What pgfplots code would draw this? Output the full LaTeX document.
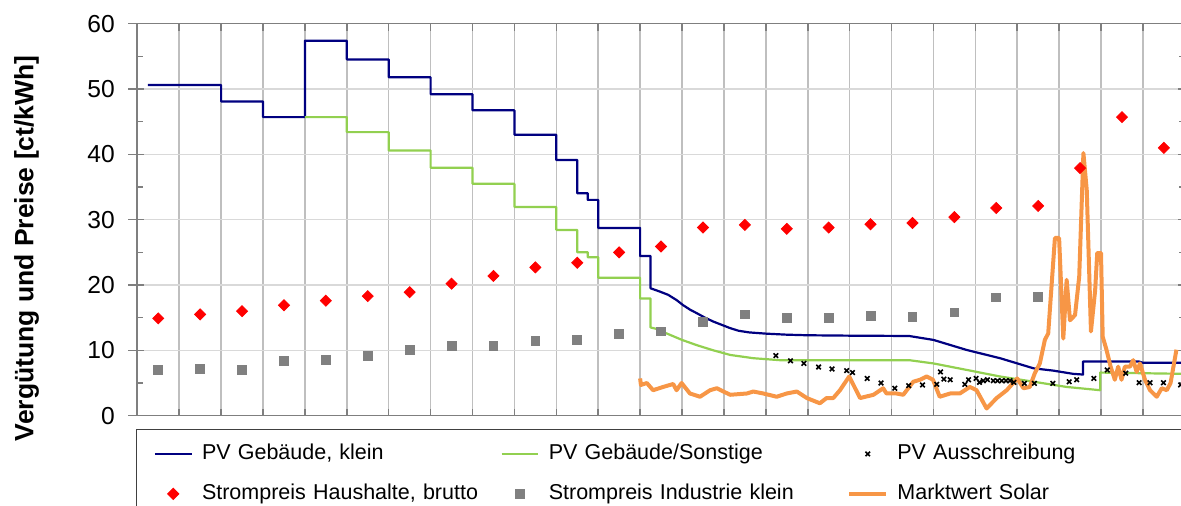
\documentclass[border=0pt]{standalone}
\usepackage{fontspec}
\setmainfont{Liberation Sans}
\usepackage{pgfplots}
\pgfplotsset{compat=1.18}
\definecolor{pvblue}{HTML}{000080}
\definecolor{pvgreen}{HTML}{92D050}
\definecolor{mwsolar}{HTML}{F79646}
\definecolor{indgray}{HTML}{808080}
\definecolor{gridx}{HTML}{BFBFBF}
\definecolor{gridy}{HTML}{D9D9D9}
\definecolor{axisgray}{HTML}{7F7F7F}
\begin{document}
\begin{tikzpicture}
\begin{axis}[
  scale only axis, width=523.75pt, height=196pt,
  xmin=2000, xmax=2025, ymin=0, ymax=60,
  xtick={2000,2001,...,2025}, xticklabels={},
  ytick={0,10,...,60},
  minor y tick num=1,
  extra y ticks={0,10,...,60}, extra y tick labels={},
  extra y tick style={grid=none, tick align=outside, major tick length=4.5pt},
  tick align=inside, major tick length=3.5pt, minor tick length=3pt,
  tick style={draw=axisgray, line width=0.8pt},
  grid=major,
  x grid style={draw=gridx, line width=0.8pt},
  y grid style={draw=gridy, line width=0.6pt},
  axis line style={draw=axisgray, line width=0.8pt},
  tick label style={font=\fontsize{12.3}{14}\selectfont},
  /pgf/number format/assume math mode=true,
  yticklabel style={xshift=-7.7pt},
  ylabel={Vergütung und Preise [ct/kWh]},
  every axis y label/.style={at={(axis description cs:-0.1058,0.427)}, anchor=center, rotate=90, font=\bfseries\fontsize{13.25}{15}\selectfont},
  legend columns=3,
  legend cell align=left,
  legend image code/.code={\draw[mark repeat=2,mark phase=2,#1] plot coordinates {(0pt,0pt)(9.175pt,0pt)(18.35pt,0pt)};},
  legend style={at={(axis description cs:0,0)}, anchor=north west, xshift=-0.65pt, yshift=-6.8pt,
    draw=black!75, line width=0.5pt, fill=white,
    font=\fontsize{10.75}{13}\selectfont,
    inner xsep=8.65pt, inner ysep=6.8pt, row sep=9.5pt,
    nodes={text width=145pt, align=left, inner xsep=0pt, inner ysep=0pt, text height=8pt, text depth=2.5pt},
    /tikz/every odd column/.append style={column sep=4.65pt},
    /tikz/every even column/.append style={column sep=4.3pt}},
]
% PV Gebaeude, klein
\addplot[pvblue, line width=1.1pt, line join=round] coordinates {
(2000.25,50.62) (2002,50.62) (2002,48.1) (2003,48.1) (2003,45.7) (2004,45.7)
(2004,57.4) (2005,57.4) (2005,54.53) (2006,54.53) (2006,51.8) (2007,51.8)
(2007,49.21) (2008,49.21) (2008,46.75) (2009,46.75) (2009,43.01) (2010,43.01)
(2010,39.14) (2010.5,39.14) (2010.5,34.05) (2010.75,34.05) (2010.75,33.03) (2011,33.03)
(2011,28.74) (2012,28.74) (2012,24.43) (2012.25,24.43) (2012.25,19.5)
(2012.47,19.0) (2012.67,18.5) (2012.87,17.7) (2013.03,16.9) (2013.2,16.2) (2013.35,15.7)
(2013.55,15.0) (2013.75,14.4) (2013.95,13.9) (2014.15,13.4) (2014.35,13.0) (2014.6,12.75)
(2015,12.56) (2015.5,12.4) (2016,12.31) (2017,12.25) (2018.42,12.2)
(2019.0,11.6) (2019.8,10.05) (2020.59,8.8) (2021.39,7.25) (2021.86,6.9) (2022.34,6.4)
(2022.57,6.3) (2022.57,8.3) (2023.9,8.3) (2024.0,8.1) (2025,8.1)
};
\addlegendentry{PV Gebäude, klein}
% PV Gebaeude/Sonstige
\addplot[pvgreen, line width=1.1pt, line join=round] coordinates {
(2004,45.7) (2005,45.7) (2005,43.4) (2006,43.4) (2006,40.6) (2007,40.6)
(2007,37.96) (2008,37.96) (2008,35.49) (2009,35.49) (2009,31.94) (2010,31.94)
(2010,28.43) (2010.5,28.43) (2010.5,25.02) (2010.75,25.02) (2010.75,24.26) (2011,24.26)
(2011,21.11) (2012,21.11) (2012,17.94) (2012.25,17.94) (2012.25,13.5)
(2012.45,13.2) (2012.63,12.6) (2013.0,11.6) (2013.35,10.8) (2013.75,10.0) (2014.15,9.3)
(2014.7,8.8) (2015.33,8.5) (2018.42,8.5) (2019.0,8.0) (2019.8,7.0) (2020.59,6.0)
(2021.39,5.2) (2022.18,4.4) (2022.98,3.9) (2022.98,6.6) (2024.0,6.5) (2025,6.4)
};
\addlegendentry{PV Gebäude/Sonstige}
% PV Ausschreibung
\addplot[only marks, mark=x, mark size=1.6pt, black, mark options={line width=0.8pt}] coordinates {
(2015.24,9.2) (2015.59,8.4) (2015.91,8.0) (2016.26,7.45) (2016.58,7.15) (2016.93,6.9)
(2017.07,6.6) (2017.42,5.7) (2017.75,5.0) (2018.08,4.2) (2018.41,4.6) (2018.74,4.7)
(2019.08,4.8) (2019.17,6.7) (2019.25,5.6) (2019.4,5.5) (2019.75,4.8) (2019.84,5.5)
(2020.02,5.7) (2020.1,5.1) (2020.19,5.35) (2020.29,5.5) (2020.43,5.35) (2020.53,5.35)
(2020.63,5.35) (2020.73,5.35) (2020.83,5.35) (2020.92,5.1) (2021.17,4.95) (2021.41,4.95)
(2021.85,4.95) (2022.24,5.2) (2022.42,5.5) (2022.83,5.7) (2023.15,7.0) (2023.59,6.5)
(2023.91,5.05) (2024.17,5.05) (2024.49,5.05) (2024.9,4.7)
};
\addlegendentry{PV Ausschreibung}
% Strompreis Haushalte
\addplot[only marks, mark=square*, mark size=1.95pt, color=red, mark options={rotate=45}] coordinates {
(2000.5,14.9) (2001.5,15.5) (2002.5,16.0) (2003.5,16.9) (2004.5,17.6) (2005.5,18.3)
(2006.5,18.9) (2007.5,20.2) (2008.5,21.4) (2009.5,22.7) (2010.5,23.4) (2011.5,25.0)
(2012.5,25.9) (2013.5,28.8) (2014.5,29.2) (2015.5,28.6) (2016.5,28.8) (2017.5,29.3)
(2018.5,29.5) (2019.5,30.4) (2020.5,31.8) (2021.5,32.1) (2022.5,37.9) (2023.5,45.7)
(2024.5,41.0)
};
\addlegendentry{Strompreis Haushalte, brutto}
% Strompreis Industrie klein
\addplot[only marks, mark=square*, mark size=2.2pt, color=indgray] coordinates {
(2000.5,7.0) (2001.5,7.2) (2002.5,7.0) (2003.5,8.4) (2004.5,8.6) (2005.5,9.1)
(2006.5,10.1) (2007.5,10.7) (2008.5,10.7) (2009.5,11.4) (2010.5,11.6) (2011.5,12.5)
(2012.5,12.9) (2013.5,14.4) (2014.5,15.5) (2015.5,15.0) (2016.5,15.0) (2017.5,15.3)
(2018.5,15.1) (2019.5,15.8) (2020.5,18.1) (2021.5,18.2)
};
\addlegendentry{Strompreis Industrie klein}
% Marktwert Solar
\addplot[mwsolar, line width=2pt, line join=round] coordinates {
(2012.0,5.7) (2012.02,4.7) (2012.16,5.0) (2012.31,3.9) (2012.55,4.4) (2012.79,4.85)
(2012.87,3.9) (2012.99,5.0) (2013.19,3.4) (2013.43,2.9) (2013.67,3.9) (2013.83,4.2)
(2014.15,3.2) (2014.55,3.4) (2014.7,3.7) (2014.94,3.4) (2015.26,2.9) (2015.5,3.4)
(2015.74,3.7) (2015.98,2.7) (2016.29,1.9) (2016.45,2.7) (2016.61,2.7) (2016.77,3.9)
(2016.99,6.0) (2017.25,2.7) (2017.57,3.2) (2017.8,4.2) (2017.88,3.4) (2018.12,3.4)
(2018.28,3.2) (2018.52,5.2) (2018.68,5.5) (2018.84,6.0) (2018.99,5.5) (2019.15,2.9)
(2019.4,3.4) (2019.63,3.4) (2019.87,4.4) (2020.03,3.9) (2020.27,1.1) (2020.51,2.7)
(2020.75,3.9) (2021.0,5.7) (2021.15,4.2) (2021.3,4.4) (2021.42,6.5) (2021.54,8.0)
(2021.66,11.6) (2021.74,12.6) (2021.9,27.2) (2022.0,27.2) (2022.1,11.8) (2022.18,20.8)
(2022.26,14.6) (2022.38,15.4) (2022.48,21.3) (2022.58,40.2) (2022.66,34.5) (2022.76,12.9)
(2022.86,19.2) (2022.91,24.9) (2023.0,24.9) (2023.04,12.1) (2023.13,10.1) (2023.23,7.5)
(2023.33,5.5) (2023.41,7.5) (2023.49,5.5) (2023.57,7.5) (2023.69,7.5) (2023.77,8.5)
(2023.85,6.7) (2023.93,8.0) (2024.05,5.5) (2024.17,3.9) (2024.33,2.9) (2024.45,4.2)
(2024.57,3.9) (2024.66,5.0) (2024.8,10.1)
};
\addlegendentry{Marktwert Solar}
\end{axis}
\pgfresetboundingbox
\path[use as bounding box] ([shift={(-68.65pt,-45.15pt)}]current axis.south west) rectangle ([shift={(521.85pt,207.85pt)}]current axis.south west);
\end{tikzpicture}
\end{document}
